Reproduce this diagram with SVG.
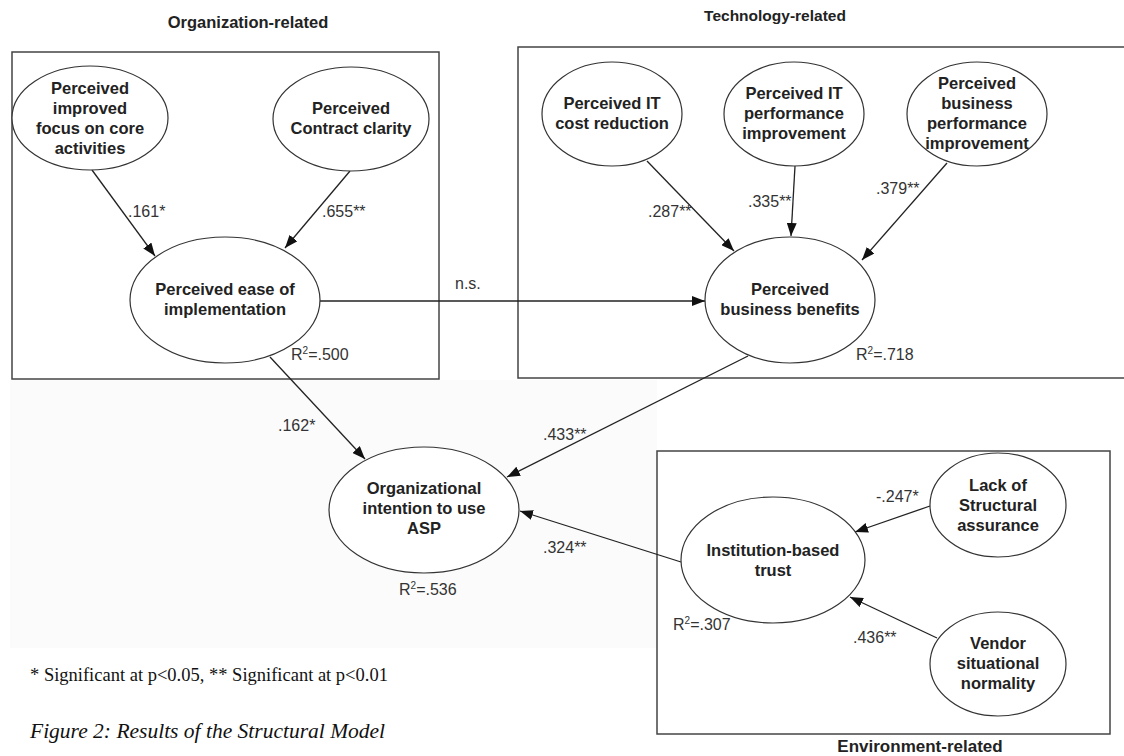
<svg xmlns="http://www.w3.org/2000/svg" width="1124" height="756" viewBox="0 0 1124 756">
<defs>
<style>
.box{fill:none;stroke:#444;stroke-width:1.5}
.node ellipse{fill:#fff;stroke:#333;stroke-width:1.2}
.node text{font-family:"Liberation Sans",Arial,sans-serif;font-weight:bold;font-size:16.5px;fill:#222;text-anchor:middle}
.title{font-family:"Liberation Sans",Arial,sans-serif;font-weight:bold;fill:#222;text-anchor:middle}
.lbl{font-family:"Liberation Sans",Arial,sans-serif;font-size:16px;fill:#333}
.edge line{stroke:#222;stroke-width:1.3;marker-end:url(#ah)}
.note{font-family:"Liberation Serif","Times New Roman",serif;fill:#111}
</style>
<marker id="ah" markerUnits="userSpaceOnUse" markerWidth="14" markerHeight="10" refX="13" refY="5" orient="auto">
<path d="M0,0 L13,5 L0,10 z" fill="#111"/>
</marker>
</defs>
<rect x="0" y="0" width="1124" height="756" fill="#fff"/>
<rect x="10" y="380" width="647" height="268" fill="#fbfbfb"/>

<g id="groups">
<rect class="box" x="12" y="52" width="427" height="327"/>
<rect class="box" x="518" y="47" width="612" height="331"/>
<rect class="box" x="657" y="451" width="453" height="283" fill="#fff"/>
<text class="title" x="248" y="28" font-size="16.5">Organization-related</text>
<text class="title" x="775" y="21" font-size="15.5">Technology-related</text>
<text class="title" x="920" y="752" font-size="17">Environment-related</text>
</g>

<g id="connectors" class="edge">
<line x1="92" y1="170" x2="155" y2="256"/>
<line x1="350" y1="171" x2="285" y2="248"/>
<line x1="320" y1="301" x2="705" y2="301"/>
<line x1="270" y1="357" x2="365" y2="459"/>
<line x1="647" y1="161" x2="734" y2="251"/>
<line x1="795" y1="166" x2="791" y2="236"/>
<line x1="947" y1="163" x2="862" y2="260"/>
<line x1="748" y1="356" x2="507" y2="477"/>
<line x1="681" y1="562" x2="520" y2="511"/>
<line x1="930" y1="506" x2="855" y2="532"/>
<line x1="937" y1="638" x2="850" y2="597"/>
</g>

<g id="n-focus" class="node"><ellipse cx="90" cy="118" rx="78" ry="52"/>
<text x="90" y="94">Perceived<tspan x="90" dy="20">improved</tspan><tspan x="90" dy="20">focus on core</tspan><tspan x="90" dy="20">activities</tspan></text></g>
<g id="n-contract" class="node"><ellipse cx="351" cy="119" rx="78" ry="52"/>
<text x="351" y="114">Perceived<tspan x="351" dy="20">Contract clarity</tspan></text></g>
<g id="n-ease" class="node"><ellipse cx="225" cy="300" rx="95" ry="63"/>
<text x="225" y="295">Perceived ease of<tspan x="225" dy="20">implementation</tspan></text></g>
<g id="n-itcost" class="node"><ellipse cx="612" cy="114" rx="70" ry="52"/>
<text x="612" y="109">Perceived IT<tspan x="612" dy="20">cost reduction</tspan></text></g>
<g id="n-itperf" class="node"><ellipse cx="794" cy="114" rx="70" ry="52"/>
<text x="794" y="99">Perceived IT<tspan x="794" dy="20">performance</tspan><tspan x="794" dy="20">improvement</tspan></text></g>
<g id="n-busperf" class="node"><ellipse cx="977" cy="114" rx="70" ry="52"/>
<text x="977" y="89">Perceived<tspan x="977" dy="20">business</tspan><tspan x="977" dy="20">performance</tspan><tspan x="977" dy="20">improvement</tspan></text></g>
<g id="n-pbb" class="node"><ellipse cx="790" cy="300" rx="85" ry="63"/>
<text x="790" y="295">Perceived<tspan x="790" dy="20">business benefits</tspan></text></g>
<g id="n-intent" class="node"><ellipse cx="424" cy="510" rx="95" ry="63"/>
<text x="424" y="494">Organizational<tspan x="424" dy="20">intention to use</tspan><tspan x="424" dy="20">ASP</tspan></text></g>
<g id="n-inst" class="node"><ellipse cx="773" cy="560" rx="92" ry="63"/>
<text x="773" y="556">Institution-based<tspan x="773" dy="20">trust</tspan></text></g>
<g id="n-lack" class="node"><ellipse cx="998" cy="505" rx="68" ry="52"/>
<text x="998" y="491">Lack of<tspan x="998" dy="20">Structural</tspan><tspan x="998" dy="20">assurance</tspan></text></g>
<g id="n-vendor" class="node"><ellipse cx="998" cy="664" rx="68" ry="52"/>
<text x="998" y="649">Vendor<tspan x="998" dy="20">situational</tspan><tspan x="998" dy="20">normality</tspan></text></g>

<g id="labels">
<text class="lbl" x="128" y="217">.161*</text>
<text class="lbl" x="322" y="217">.655**</text>
<text class="lbl" x="455" y="289">n.s.</text>
<text class="lbl" x="648" y="217">.287**</text>
<text class="lbl" x="748" y="207">.335**</text>
<text class="lbl" x="876" y="194">.379**</text>
<text class="lbl" x="291" y="360">R<tspan dy="-6" font-size="10">2</tspan><tspan dy="6">=.500</tspan></text>
<text class="lbl" x="856" y="360">R<tspan dy="-6" font-size="10">2</tspan><tspan dy="6">=.718</tspan></text>
<text class="lbl" x="278" y="431">.162*</text>
<text class="lbl" x="543" y="440">.433**</text>
<text class="lbl" x="543" y="553">.324**</text>
<text class="lbl" x="399" y="595">R<tspan dy="-6" font-size="10">2</tspan><tspan dy="6">=.536</tspan></text>
<text class="lbl" x="876" y="502">-.247*</text>
<text class="lbl" x="853" y="643">.436**</text>
<text class="lbl" x="673" y="630">R<tspan dy="-6" font-size="10">2</tspan><tspan dy="6">=.307</tspan></text>
</g>

<text class="note" x="30" y="681" font-size="18.5">* Significant at p&lt;0.05, ** Significant at p&lt;0.01</text>
<text class="note" x="30" y="738" font-size="21.5" font-style="italic">Figure 2: Results of the Structural Model</text>
</svg>
